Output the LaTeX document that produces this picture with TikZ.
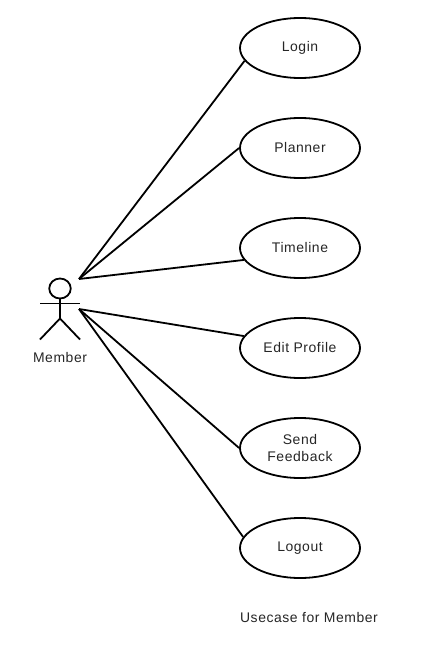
\documentclass[tikz,border=0pt]{standalone}
\usepackage{fontspec}
\setmainfont[LetterSpace=4]{Liberation Sans}
\usetikzlibrary{shapes.geometric}
\tikzset{
 usecase/.style={draw,ellipse,line width=1.8bp,minimum width=120bp,minimum height=60bp,inner sep=0pt,align=center,font=\fontsize{14}{17}\selectfont,text=black!85},
 link/.style={line width=1.8bp},
 lbl/.style={inner sep=0pt,font=\fontsize{14}{17}\selectfont,text=black!85}
}
\begin{document}
\begin{tikzpicture}[x=1bp,y=-1bp]
\useasboundingbox (0,0) rectangle (420,650);
\fill[white] (0,0) rectangle (420,650);
\node[usecase] (login) at (300,48) {Login};
\node[usecase] (planner) at (300,148) {Planner};
\node[usecase] (timeline) at (300,248) {Timeline};
\node[usecase] (edit) at (300,348) {Edit Profile};
\node[usecase] (feedback) at (300,448) {Send\\Feedback};
\node[usecase] (logout) at (300,548) {Logout};
\coordinate (up) at (79,279);
\coordinate (low) at (79,309);
\draw[link] (up) -- (login.193);
\draw[link] (up) -- (planner.west);
\draw[link] (up) -- (timeline.192);
\draw[link] (low) -- (edit.168);
\draw[link] (low) -- (feedback.west);
\draw[link] (low) -- (logout.169);
\node[draw,ellipse,line width=1.8bp,minimum width=21.5bp,minimum height=20bp,inner sep=0pt] (head) at (60,288.5) {};
\coordinate (hip) at (60,318.5);
\coordinate (armL) at (40,303.5);
\coordinate (armR) at (80,303.5);
\coordinate (footL) at (40,339.5);
\coordinate (footR) at (80,339.5);
\draw[link] (head) -- (hip);
\draw[link] (armL) -- (armR);
\draw[link] (footL) -- (hip) -- (footR);
\node[lbl] (member) at (60,357.5) {Member};
\node[lbl] (cap) at (309,617.5) {Usecase for Member};
\end{tikzpicture}
\end{document}
